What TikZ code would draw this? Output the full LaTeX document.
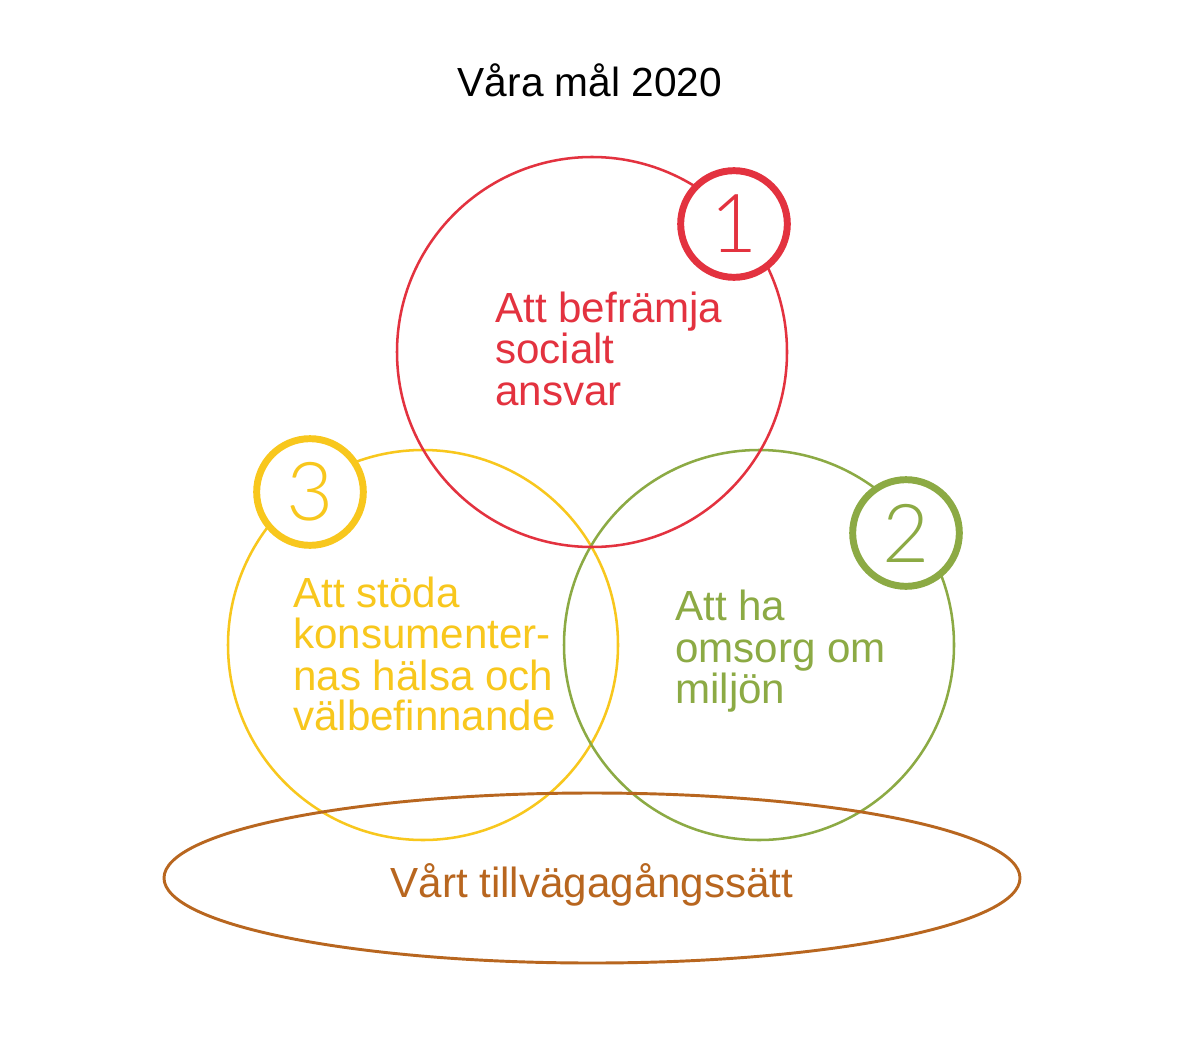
\documentclass[tikz,border=0pt]{standalone}
\usepackage{fontspec}
\setmainfont{Liberation Sans}
\newfontfamily\digitfont{Lato Light}
\definecolor{cred}{HTML}{E3323F}
\definecolor{cyel}{HTML}{F8C71D}
\definecolor{cgrn}{HTML}{8CAA44}
\definecolor{cbrn}{HTML}{B8661F}
\begin{document}
\begin{tikzpicture}[x=0.75pt,y=-0.75pt,
  bigcirc/.style={draw, line width=1.9pt, fill=none},
  smallcirc/.style={draw, line width=5.2pt, fill=white, circle, minimum size=80pt, inner sep=0pt},
  bodytext/.style={anchor=base west, inner sep=0pt, font=\fontsize{31.6pt}{32pt}\selectfont},
  digit/.style={inner sep=0pt, font=\digitfont\fontsize{61pt}{61pt}\selectfont}]
\useasboundingbox (0,0) rectangle (1181,1063);
\fill[white] (0,0) rectangle (1181,1063);
% title
\node[anchor=base, inner sep=0pt, font=\fontsize{30.5pt}{31pt}\selectfont] (title) at (590,97) {Våra mål 2020};
% big circles
\draw[bigcirc, cyel] (423,645) circle (195);
\draw[bigcirc, cgrn] (759,645) circle (195);
\draw[bigcirc, cred] (592,352) circle (195);
% ellipse
\draw[cbrn, line width=2.2pt] (592,878) ellipse (428 and 85);
% small numbered circles
\node[smallcirc, draw=cred] (n1) at (734,224) {};
\node[digit, text=cred] (d1) at (n1.center) {1};
\node[smallcirc, draw=cgrn] (n2) at (906,533) {};
\node[digit, text=cgrn] (d2) at (n2.center) {2};
\node[smallcirc, draw=cyel] (n3) at (310,492) {};
\node[digit, text=cyel] (d3) at (n3.center) {3};
% red text
\node[bodytext, text=cred] (r1) at (495,322) {Att befrämja};
\node[bodytext, text=cred] (r2) at (495,363) {socialt};
\node[bodytext, text=cred] (r3) at (495,405) {ansvar};
% yellow text
\node[bodytext, text=cyel] (y1) at (293,607) {Att stöda};
\node[bodytext, text=cyel] (y2) at (293,648) {konsumenter-};
\node[bodytext, text=cyel] (y3) at (293,690) {nas hälsa och};
\node[bodytext, text=cyel] (y4) at (293,730) {välbefinnande};
% green text
\node[bodytext, text=cgrn] (g1) at (675,620) {Att ha};
\node[bodytext, text=cgrn] (g2) at (675,662) {omsorg om};
\node[bodytext, text=cgrn] (g3) at (675,703) {miljön};
% ellipse text
\node[anchor=base, inner sep=0pt, text=cbrn, font=\fontsize{31.6pt}{32pt}\selectfont] (e1) at (592,897) {Vårt tillvägagångssätt};
\end{tikzpicture}
\end{document}
